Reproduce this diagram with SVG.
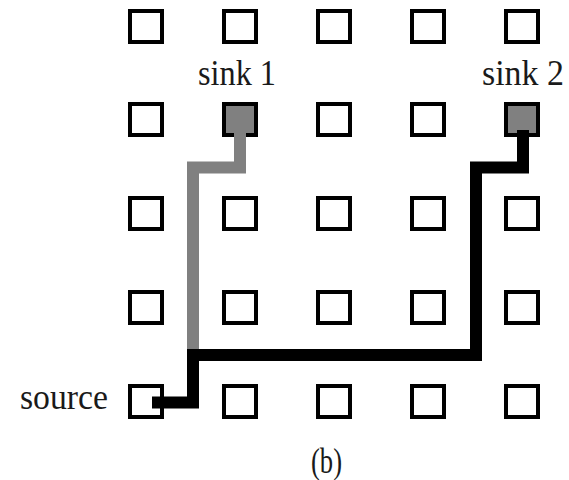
<svg xmlns="http://www.w3.org/2000/svg" width="569" height="480" viewBox="0 0 569 480">
<style>
.cell{fill:#fff;stroke:#000;stroke-width:4}
.sink{fill:#808080;stroke:#000;stroke-width:4}
.lbl{font-family:"Liberation Serif","Times New Roman",serif;font-size:35px;fill:#1a1a1a}
.wire{fill:none;stroke-width:12;stroke-linejoin:miter;stroke-linecap:butt}
</style>
<rect width="569" height="480" fill="#fff"/>
<g id="cells">
<g id="r1c1"><rect class="cell" x="130" y="11" width="32" height="31"/></g>
<g id="r1c2"><rect class="cell" x="224" y="11" width="32" height="31"/></g>
<g id="r1c3"><rect class="cell" x="318" y="11" width="32" height="31"/></g>
<g id="r1c4"><rect class="cell" x="412" y="11" width="32" height="31"/></g>
<g id="r1c5"><rect class="cell" x="506" y="11" width="32" height="31"/></g>
<g id="r2c1"><rect class="cell" x="130" y="104" width="32" height="31"/></g>
<g id="sink1"><rect class="sink" x="224" y="104" width="32" height="31"/></g>
<g id="r2c3"><rect class="cell" x="318" y="104" width="32" height="31"/></g>
<g id="r2c4"><rect class="cell" x="412" y="104" width="32" height="31"/></g>
<g id="sink2"><rect class="sink" x="506" y="104" width="32" height="31"/></g>
<g id="r3c1"><rect class="cell" x="130" y="198" width="32" height="31"/></g>
<g id="r3c2"><rect class="cell" x="224" y="198" width="32" height="31"/></g>
<g id="r3c3"><rect class="cell" x="318" y="198" width="32" height="31"/></g>
<g id="r3c4"><rect class="cell" x="412" y="198" width="32" height="31"/></g>
<g id="r3c5"><rect class="cell" x="506" y="198" width="32" height="31"/></g>
<g id="r4c1"><rect class="cell" x="130" y="292" width="32" height="31"/></g>
<g id="r4c2"><rect class="cell" x="224" y="292" width="32" height="31"/></g>
<g id="r4c3"><rect class="cell" x="318" y="292" width="32" height="31"/></g>
<g id="r4c4"><rect class="cell" x="412" y="292" width="32" height="31"/></g>
<g id="r4c5"><rect class="cell" x="506" y="292" width="32" height="31"/></g>
<g id="source"><rect class="cell" x="130" y="386" width="32" height="31"/></g>
<g id="r5c2"><rect class="cell" x="224" y="386" width="32" height="31"/></g>
<g id="r5c3"><rect class="cell" x="318" y="386" width="32" height="31"/></g>
<g id="r5c4"><rect class="cell" x="412" y="386" width="32" height="31"/></g>
<g id="r5c5"><rect class="cell" x="506" y="386" width="32" height="31"/></g>
</g>
<g id="connectors">
<path class="wire" stroke="#808080" d="M240,126 V167.5 H193 V350"/>
<path class="wire" stroke="#000" d="M152,402.5 H193 V355 H476 V167.5 H523 V130"/>
</g>
<g id="labels">
<text class="lbl" x="198" y="85" textLength="78" lengthAdjust="spacingAndGlyphs">sink 1</text>
<text class="lbl" x="482" y="85" textLength="82" lengthAdjust="spacingAndGlyphs">sink 2</text>
<text class="lbl" x="20" y="409" textLength="88" lengthAdjust="spacingAndGlyphs">source</text>
<text class="lbl" x="311" y="473" textLength="31" lengthAdjust="spacingAndGlyphs">(b)</text>
</g>
</svg>
